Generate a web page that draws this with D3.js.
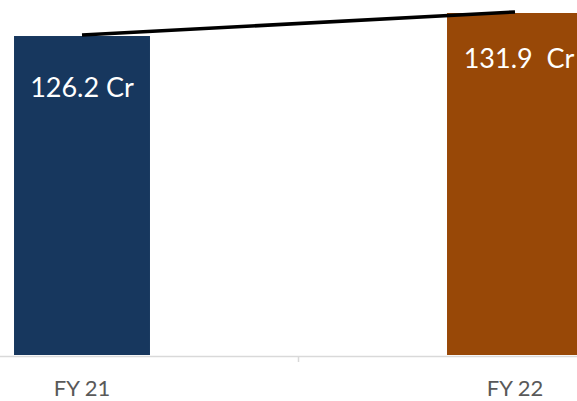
<!DOCTYPE html>
<html>
<head>
<meta charset="utf-8">
<script src="https://cdn.jsdelivr.net/npm/d3@7"></script>
<style>
  html, body { margin: 0; padding: 0; background: #ffffff; }
  svg { display: block; }
  text { font-family: Lato, "Open Sans", sans-serif; }
</style>
</head>
<body>
<script>
// ---- data ----
const categories = ["FY 21", "FY 22"];
const values = [126.2, 131.9];
const valueLabels = ["126.2 Cr", "131.9  Cr"];
const barColors = ["#17375e", "#984807"];

// ---- layout ----
const W = 577, H = 401;
const svg = d3.select("body").append("svg").attr("width", W).attr("height", H);

const x = d3.scaleBand()
  .domain(categories)
  .range([-134.5, 731.5])
  .paddingInner(0.686)
  .paddingOuter(0.343);

const y = d3.scaleLinear()
  .domain([47.2, 131.9])
  .range([355, 13]);

const baseY = y(47.2);

// bars
svg.selectAll("rect.bar")
  .data(categories)
  .join("rect")
  .attr("class", "bar")
  .attr("x", d => x(d))
  .attr("width", x.bandwidth())
  .attr("y", (d, i) => y(values[i]))
  .attr("height", (d, i) => baseY - y(values[i]))
  .attr("fill", (d, i) => barColors[i]);

// axis
const axisG = svg.append("g")
  .attr("transform", `translate(0,${baseY + 1})`)
  .call(d3.axisBottom(x).tickSize(0).tickSizeOuter(0).tickPadding(24));
axisG.select(".domain").attr("stroke", "#d9d9d9").attr("stroke-width", 1.5);
axisG.selectAll(".tick text")
  .attr("fill", "#595959")
  .style("font-size", "22px");

// boundary ticks between categories
const step = x.step();
axisG.selectAll("line.sep")
  .data(categories.slice(0, -1))
  .join("line")
  .attr("class", "sep")
  .attr("x1", d => x(d) + x.bandwidth() + (step - x.bandwidth()) / 2)
  .attr("x2", d => x(d) + x.bandwidth() + (step - x.bandwidth()) / 2)
  .attr("y1", 0)
  .attr("y2", 6)
  .attr("stroke", "#d9d9d9")
  .attr("stroke-width", 1.5);

// trend line
const line = d3.line()
  .x((d, i) => x(categories[i]) + x.bandwidth() / 2)
  .y(d => y(d) - 1);
svg.append("path")
  .datum(values)
  .attr("d", line)
  .attr("fill", "none")
  .attr("stroke", "#000000")
  .attr("stroke-width", 3.5);

// value labels
const labelDy = [61, 55];
const labelDx = [0, 4];
svg.selectAll("text.val")
  .data(categories)
  .join("text")
  .attr("class", "val")
  .attr("x", (d, i) => x(d) + x.bandwidth() / 2 + labelDx[i])
  .attr("y", (d, i) => y(values[i]) + labelDy[i])
  .attr("text-anchor", "middle")
  .attr("fill", "#ffffff")
  .style("font-size", "27px")
  .style("white-space", "pre")
  .text((d, i) => valueLabels[i]);
</script>
</body>
</html>
